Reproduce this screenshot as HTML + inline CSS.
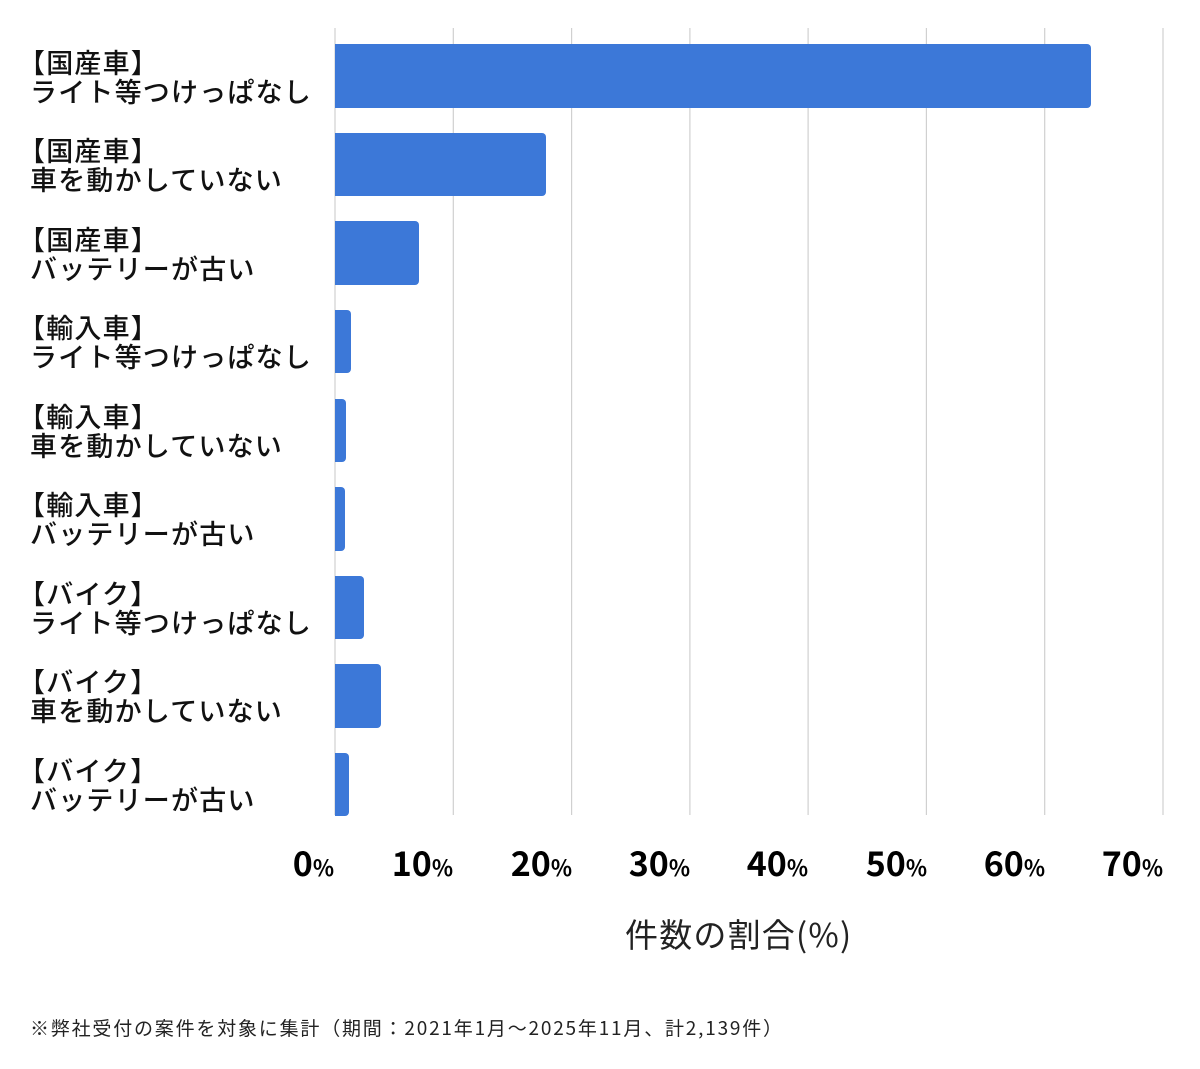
<!DOCTYPE html>
<html><head><meta charset="utf-8"><style>
html,body{margin:0;padding:0;background:#fff;}
svg{display:block;font-family:"Noto Sans CJK JP","Liberation Sans",sans-serif;}
</style></head><body>
<svg width="1200" height="1069" viewBox="0 0 1200 1069" xmlns="http://www.w3.org/2000/svg">
<g stroke="#d0d0d0" stroke-width="1.2">
<line x1="335" y1="28" x2="335" y2="815"/>
<line x1="453.3" y1="28" x2="453.3" y2="815"/>
<line x1="571.6" y1="28" x2="571.6" y2="815"/>
<line x1="689.9" y1="28" x2="689.9" y2="815"/>
<line x1="808.1" y1="28" x2="808.1" y2="815"/>
<line x1="926.4" y1="28" x2="926.4" y2="815"/>
<line x1="1044.7" y1="28" x2="1044.7" y2="815"/>
<line x1="1163" y1="28" x2="1163" y2="815"/>
</g>
<g fill="#3c78d8">
<path d="M335 44H1087a4 4 0 0 1 4 4V104a4 4 0 0 1-4 4H335Z"/>
<path d="M335 133H542a4 4 0 0 1 4 4V192a4 4 0 0 1-4 4H335Z"/>
<path d="M335 221H415a4 4 0 0 1 4 4V281a4 4 0 0 1-4 4H335Z"/>
<path d="M335 310H347a4 4 0 0 1 4 4V369a4 4 0 0 1-4 4H335Z"/>
<path d="M335 399H342a4 4 0 0 1 4 4V458a4 4 0 0 1-4 4H335Z"/>
<path d="M335 487H341a4 4 0 0 1 4 4V547a4 4 0 0 1-4 4H335Z"/>
<path d="M335 576H360a4 4 0 0 1 4 4V635a4 4 0 0 1-4 4H335Z"/>
<path d="M335 664H377a4 4 0 0 1 4 4V724a4 4 0 0 1-4 4H335Z"/>
<path d="M335 753H345a4 4 0 0 1 4 4V812a4 4 0 0 1-4 4H335Z"/>
</g>
<g font-size="27" fill="#111" font-weight="500" letter-spacing="1.2">
<text x="18" y="73">【国産車】</text><text x="30" y="102">ライト等つけっぱなし</text>
<text x="18" y="161">【国産車】</text><text x="30" y="190">車を動かしていない</text>
<text x="18" y="250">【国産車】</text><text x="30" y="279">バッテリーが古い</text>
<text x="18" y="338">【輸入車】</text><text x="30" y="367">ライト等つけっぱなし</text>
<text x="18" y="427">【輸入車】</text><text x="30" y="456">車を動かしていない</text>
<text x="18" y="515">【輸入車】</text><text x="30" y="544">バッテリーが古い</text>
<text x="18" y="604">【バイク】</text><text x="30" y="633">ライト等つけっぱなし</text>
<text x="18" y="692">【バイク】</text><text x="30" y="721">車を動かしていない</text>
<text x="18" y="781">【バイク】</text><text x="30" y="810">バッテリーが古い</text>
</g>
<g font-weight="bold" fill="#000" text-anchor="end">
<text x="334" y="876"><tspan font-size="34">0</tspan><tspan font-size="22">%</tspan></text>
<text x="453" y="876"><tspan font-size="34">10</tspan><tspan font-size="22">%</tspan></text>
<text x="572" y="876"><tspan font-size="34">20</tspan><tspan font-size="22">%</tspan></text>
<text x="690" y="876"><tspan font-size="34">30</tspan><tspan font-size="22">%</tspan></text>
<text x="808" y="876"><tspan font-size="34">40</tspan><tspan font-size="22">%</tspan></text>
<text x="927" y="876"><tspan font-size="34">50</tspan><tspan font-size="22">%</tspan></text>
<text x="1045" y="876"><tspan font-size="34">60</tspan><tspan font-size="22">%</tspan></text>
<text x="1163" y="876"><tspan font-size="34">70</tspan><tspan font-size="22">%</tspan></text>
</g>
<text x="625" y="947" font-size="33" fill="#222" letter-spacing="1.2">件数の割合(%)</text>
<text x="30" y="1035" font-size="19" fill="#222" letter-spacing="1.8">※弊社受付の案件を対象に集計（期間：2021年1月〜2025年11月、計2,139件）</text>
</svg>
</body></html>
